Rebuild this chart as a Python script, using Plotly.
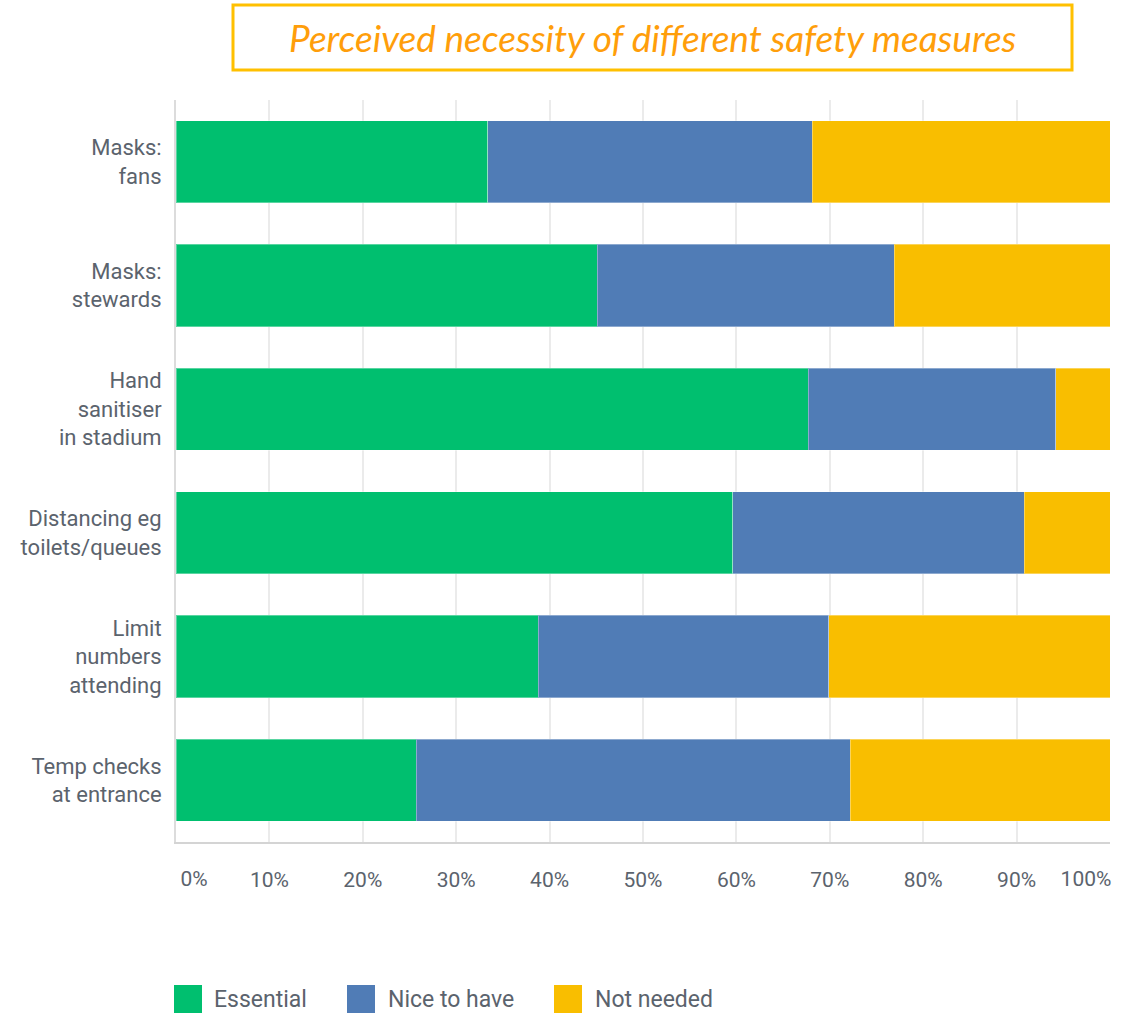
import plotly.graph_objects as go

# ---- data ----
categories = [
    "Masks:<br>fans",
    "Masks:<br>stewards",
    "Hand<br>sanitiser<br>in stadium",
    "Distancing eg<br>toilets/queues",
    "Limit<br>numbers<br>attending",
    "Temp checks<br>at entrance",
]
essential = [33.4, 45.1, 67.7, 59.6, 38.8, 25.7]
nice_to_have = [34.7, 31.8, 26.5, 31.2, 31.1, 46.5]
not_needed = [31.9, 23.1, 5.8, 9.2, 30.1, 27.8]
series_names = ["Essential", "Nice to have", "Not needed"]
tick_values = [0, 10, 20, 30, 40, 50, 60, 70, 80, 90, 100]
tick_labels = ["0%", "10%", "20%", "30%", "40%", "50%", "60%", "70%", "80%", "90%", "100%"]
title_text = "Perceived necessity of different safety measures"

# ---- style ----
colors = ["#00BF6F", "#507CB6", "#F9BE00"]
text_color = "#5b636d"
W, H = 1131, 1014
ML, MR, MT, MB = 176, 21, 100, 172
PW, PH = W - ML - MR, H - MT - MB


def px_x(p):
    return (p - ML) / PW


def px_y(p):
    return (H - MB - p) / PH


fig = go.Figure()
for name, vals, col in zip(series_names, [essential, nice_to_have, not_needed], colors):
    fig.add_trace(go.Bar(
        y=categories, x=vals, name=name, orientation="h",
        marker=dict(color=col, line=dict(color="rgba(255,255,255,0.35)", width=1)),
        showlegend=False, hoverinfo="name+x",
    ))

# invisible anchors so the two overlay axes (edge tick labels) get drawn
for ax, xv in (("x2", tick_values[0]), ("x3", tick_values[-1])):
    fig.add_trace(go.Scatter(
        x=[xv], y=[categories[0]], xaxis=ax, yaxis="y", mode="markers",
        marker=dict(opacity=0, size=1), showlegend=False, hoverinfo="skip",
    ))

tick_font = dict(family="Roboto", size=21, color=text_color)
mid_text = [""] + tick_labels[1:-1] + [""]

common_x = dict(range=[0, 100], fixedrange=True, automargin=False,
                ticks="", tickfont=tick_font, zeroline=False)

fig.update_layout(
    width=W, height=H,
    margin=dict(l=ML, r=MR, t=MT, b=MB, pad=0, autoexpand=False),
    barmode="stack", bargap=0.336,
    plot_bgcolor="white", paper_bgcolor="white",
    font=dict(family="Roboto", size=21, color=text_color),
    xaxis=dict(
        tickvals=tick_values, ticktext=mid_text,
        showgrid=True, gridcolor="#ebebeb", gridwidth=2,
        showline=True, linecolor="#d4d4d4", linewidth=2,
        ticklabelstandoff=18,
        **common_x,
    ),
    # first and last labels are nudged inwards as in the reference
    xaxis2=dict(
        overlaying="x", anchor="y", side="bottom",
        tickvals=[tick_values[0]], ticktext=[tick_labels[0]],
        showgrid=False, showline=False, ticklabelshift=18,
        ticklabelstandoff=22,
        **common_x,
    ),
    xaxis3=dict(
        overlaying="x", anchor="y", side="bottom",
        tickvals=[tick_values[-1]], ticktext=[tick_labels[-1]],
        showgrid=False, showline=False, ticklabelshift=-24,
        ticklabelstandoff=22,
        **common_x,
    ),
    yaxis=dict(
        autorange="reversed", showgrid=False,
        showline=True, linecolor="#dcdcdc", linewidth=2,
        ticks="", ticklabelstandoff=8, automargin=False,
        tickfont=dict(family="Roboto", size=22, color=text_color),
        fixedrange=True,
    ),
)

# ---- title box ----
fig.add_shape(type="rect", xref="paper", yref="paper",
              x0=px_x(233), x1=px_x(1072), y0=px_y(70), y1=px_y(5),
              line=dict(color="#FFC000", width=3), fillcolor="rgba(0,0,0,0)")
fig.add_annotation(xref="paper", yref="paper", x=px_x(652), y=px_y(38),
                   text="<i>" + title_text + "</i>", showarrow=False,
                   xanchor="center", yanchor="middle",
                   font=dict(family="Lato", size=37, color="#FF9E0A"))

# ---- custom legend ----
legend_square_x = [174, 347, 554]
legend_text_x = [212, 386, 593]
for name, col, sx, tx in zip(series_names, colors, legend_square_x, legend_text_x):
    fig.add_shape(type="rect", xref="paper", yref="paper",
                  x0=px_x(sx), x1=px_x(sx + 28), y0=px_y(1013), y1=px_y(985),
                  line=dict(color=col, width=0), fillcolor=col)
    fig.add_annotation(xref="paper", yref="paper", x=px_x(tx), y=px_y(999),
                       text=name, showarrow=False, xanchor="left", yanchor="middle",
                       font=dict(family="Roboto", size=23, color=text_color))

fig.write_html("out.html")
